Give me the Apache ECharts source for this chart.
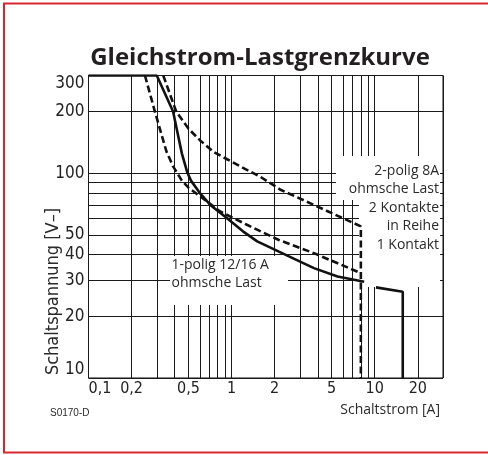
<!DOCTYPE html>
<html>
<head>
<meta charset="utf-8">
<script src="https://cdn.jsdelivr.net/npm/echarts@6/dist/echarts.min.js"></script>
<style>
  html, body { margin: 0; padding: 0; background: #fff; }
  #chart { width: 488px; height: 455px; }
</style>
</head>
<body>
<div id="chart"></div>
<script>
// Achsen (log): Gitterlinien und Beschriftungen
const xGridValues = [0.1, 0.2, 0.3, 0.4, 0.5, 0.6, 0.7, 0.8, 0.9, 1, 2, 3, 4, 5, 6, 7, 8, 9, 10, 20, 30]
const xLabelValues = [0.1, 0.2, 0.5, 1, 2, 5, 10, 20]
const yGridValues = [10, 20, 30, 40, 50, 60, 70, 80, 90, 100, 200, 300]
const yLabelValues = [10, 20, 30, 40, 50, 100, 200, 300]

// 1-polig 12/16 A ohmsche Last (durchgezogen)
const einpolig = [[0.1, 300], [0.3, 300], [0.39, 200], [0.449, 125], [0.49, 101], [0.52, 92], [0.6, 80],
  [0.71, 70], [0.93, 60.3], [1.2, 52], [1.51, 46.5], [2.14, 41.4], [3.76, 34.4], [5.5, 31.3], [8.44, 29.5]]
const einpoligEnde = [[10.2, 27.7], [15.7, 26.4], [15.7, 10]]
// 2-polig 8A, 1 Kontakt (gestrichelt, innen)
const einKontakt = [[0.248, 300], [0.291, 200], [0.35, 128], [0.39, 108], [0.449, 92], [0.5, 85], [0.603, 77],
  [0.832, 65], [1.28, 56], [2.14, 47.2], [3.76, 40.7], [8, 32.5]]
// 2-polig 8A, 2 Kontakte in Reihe (gestrichelt, aussen)
const zweiKontakte = [[0.333, 300], [0.41, 200], [0.5, 165], [0.6, 145], [0.75, 127], [0.93, 117], [1.15, 108],
  [1.59, 96], [2.2, 83], [3.76, 70], [8, 55], [8, 10]]

const fontNarrow = '"Liberation Sans Narrow", "DejaVu Sans Condensed", sans-serif'
const fontText = '"Open Sans", "Noto Sans", sans-serif'

function fmt (v) {
  return String(+Number(v).toPrecision(3)).replace('.', ',')
}

function txt (x, y, text, font, align, vAlign, extra) {
  return Object.assign({
    type: 'text',
    x: x,
    y: y,
    z: 5,
    silent: true,
    style: {
      text: text,
      font: font,
      fill: '#2a2a2a',
      align: align,
      textAlign: align,
      verticalAlign: vAlign,
      textVerticalAlign: vAlign
    }
  }, extra || {})
}

const chart = echarts.init(document.getElementById('chart'))

const option = {
  animation: false,
  grid: {
    left: 88.5,
    right: 45,
    top: 75.5,
    bottom: 77,
    show: true,
    borderColor: '#111',
    borderWidth: 1,
    backgroundColor: 'transparent'
  },
  xAxis: {
    type: 'log',
    logBase: 10,
    min: 0.1,
    max: 30,
    axisLine: { show: false },
    axisTick: { show: false, customValues: xGridValues },
    axisLabel: {
      customValues: xLabelValues,
      formatter: fmt,
      fontFamily: fontNarrow,
      fontSize: 16,
      color: '#222',
      margin: 3,
      alignMinLabel: 'left'
    },
    splitLine: { show: true, lineStyle: { color: '#1a1a1a', width: 1 } }
  },
  yAxis: {
    type: 'log',
    logBase: 10,
    min: 10,
    max: 300,
    axisLine: { show: false },
    axisTick: { show: false, customValues: yGridValues },
    axisLabel: {
      customValues: yLabelValues,
      formatter: fmt,
      fontFamily: fontNarrow,
      fontSize: 17,
      color: '#222',
      margin: 4,
      verticalAlignMinLabel: 'bottom',
      verticalAlignMaxLabel: 'top'
    },
    splitLine: { show: true, lineStyle: { color: '#1a1a1a', width: 1 } }
  },
  series: [
    {
      name: '1-polig 12/16 A',
      type: 'line',
      z: 3,
      symbol: 'none',
      data: einpolig,
      lineStyle: { color: '#111', width: 2.6 }
    },
    {
      name: '1-polig 16 A',
      type: 'line',
      z: 3,
      symbol: 'none',
      data: einpoligEnde,
      lineStyle: { color: '#111', width: 2.6 }
    },
    {
      name: '1 Kontakt',
      type: 'line',
      z: 3,
      symbol: 'none',
      data: einKontakt,
      lineStyle: { color: '#111', width: 2.6, type: [7, 3.5] }
    },
    {
      name: '2 Kontakte in Reihe',
      type: 'line',
      z: 3,
      symbol: 'none',
      data: zweiKontakte,
      lineStyle: { color: '#111', width: 2.6, type: [7, 3.5] }
    }
  ],
  graphic: [
    // rote Umrandung
    { type: 'rect', z: 10, silent: true, shape: { x: 4, y: 3.5, width: 560, height: 449 },
      style: { fill: 'none', stroke: '#d6262e', lineWidth: 2 } },
    // weisse Flaechen hinter den Beschriftungen
    { type: 'rect', z: 1, silent: true, shape: { x: 336, y: 156, width: 104, height: 44 }, style: { fill: '#fff' } },
    { type: 'rect', z: 1, silent: true, shape: { x: 359, y: 199, width: 81, height: 88 }, style: { fill: '#fff' } },
    { type: 'rect', z: 1, silent: true, shape: { x: 170, y: 256, width: 118, height: 49 }, style: { fill: '#fff' } },
    txt(260, 58, 'Gleichstrom-Lastgrenzkurve', 'bold 24px ' + fontText, 'center', 'middle', { style: {
      text: 'Gleichstrom-Lastgrenzkurve', font: 'bold 24px ' + fontText, fill: '#231f20',
      align: 'center', textAlign: 'center', verticalAlign: 'middle', textVerticalAlign: 'middle' } }),
    txt(439, 161.4, '2-polig 8A\nohmsche Last\n2 Kontakte\nin Reihe\n1 Kontakt', '14px ' + fontText, 'right', 'top'),
    txt(171.5, 256, '1-polig 12/16 A\nohmsche Last', '14px ' + fontText, 'left', 'top'),
    txt(53, 291.5, 'Schaltspannung [V–]', '18px ' + fontNarrow, 'center', 'middle', { rotation: Math.PI / 2 }),
    txt(440, 410, 'Schaltstrom [A]', '14px ' + fontText, 'right', 'middle'),
    txt(50, 413, 'S0170-D', '10px "Liberation Sans", Arial, sans-serif', 'left', 'middle')
  ]
}

// Zeilenhoehe der mehrzeiligen Beschriftungen
option.graphic[5].style.lineHeight = 18.6
option.graphic[6].style.lineHeight = 18.3

chart.setOption(option)
</script>
</body>
</html>
